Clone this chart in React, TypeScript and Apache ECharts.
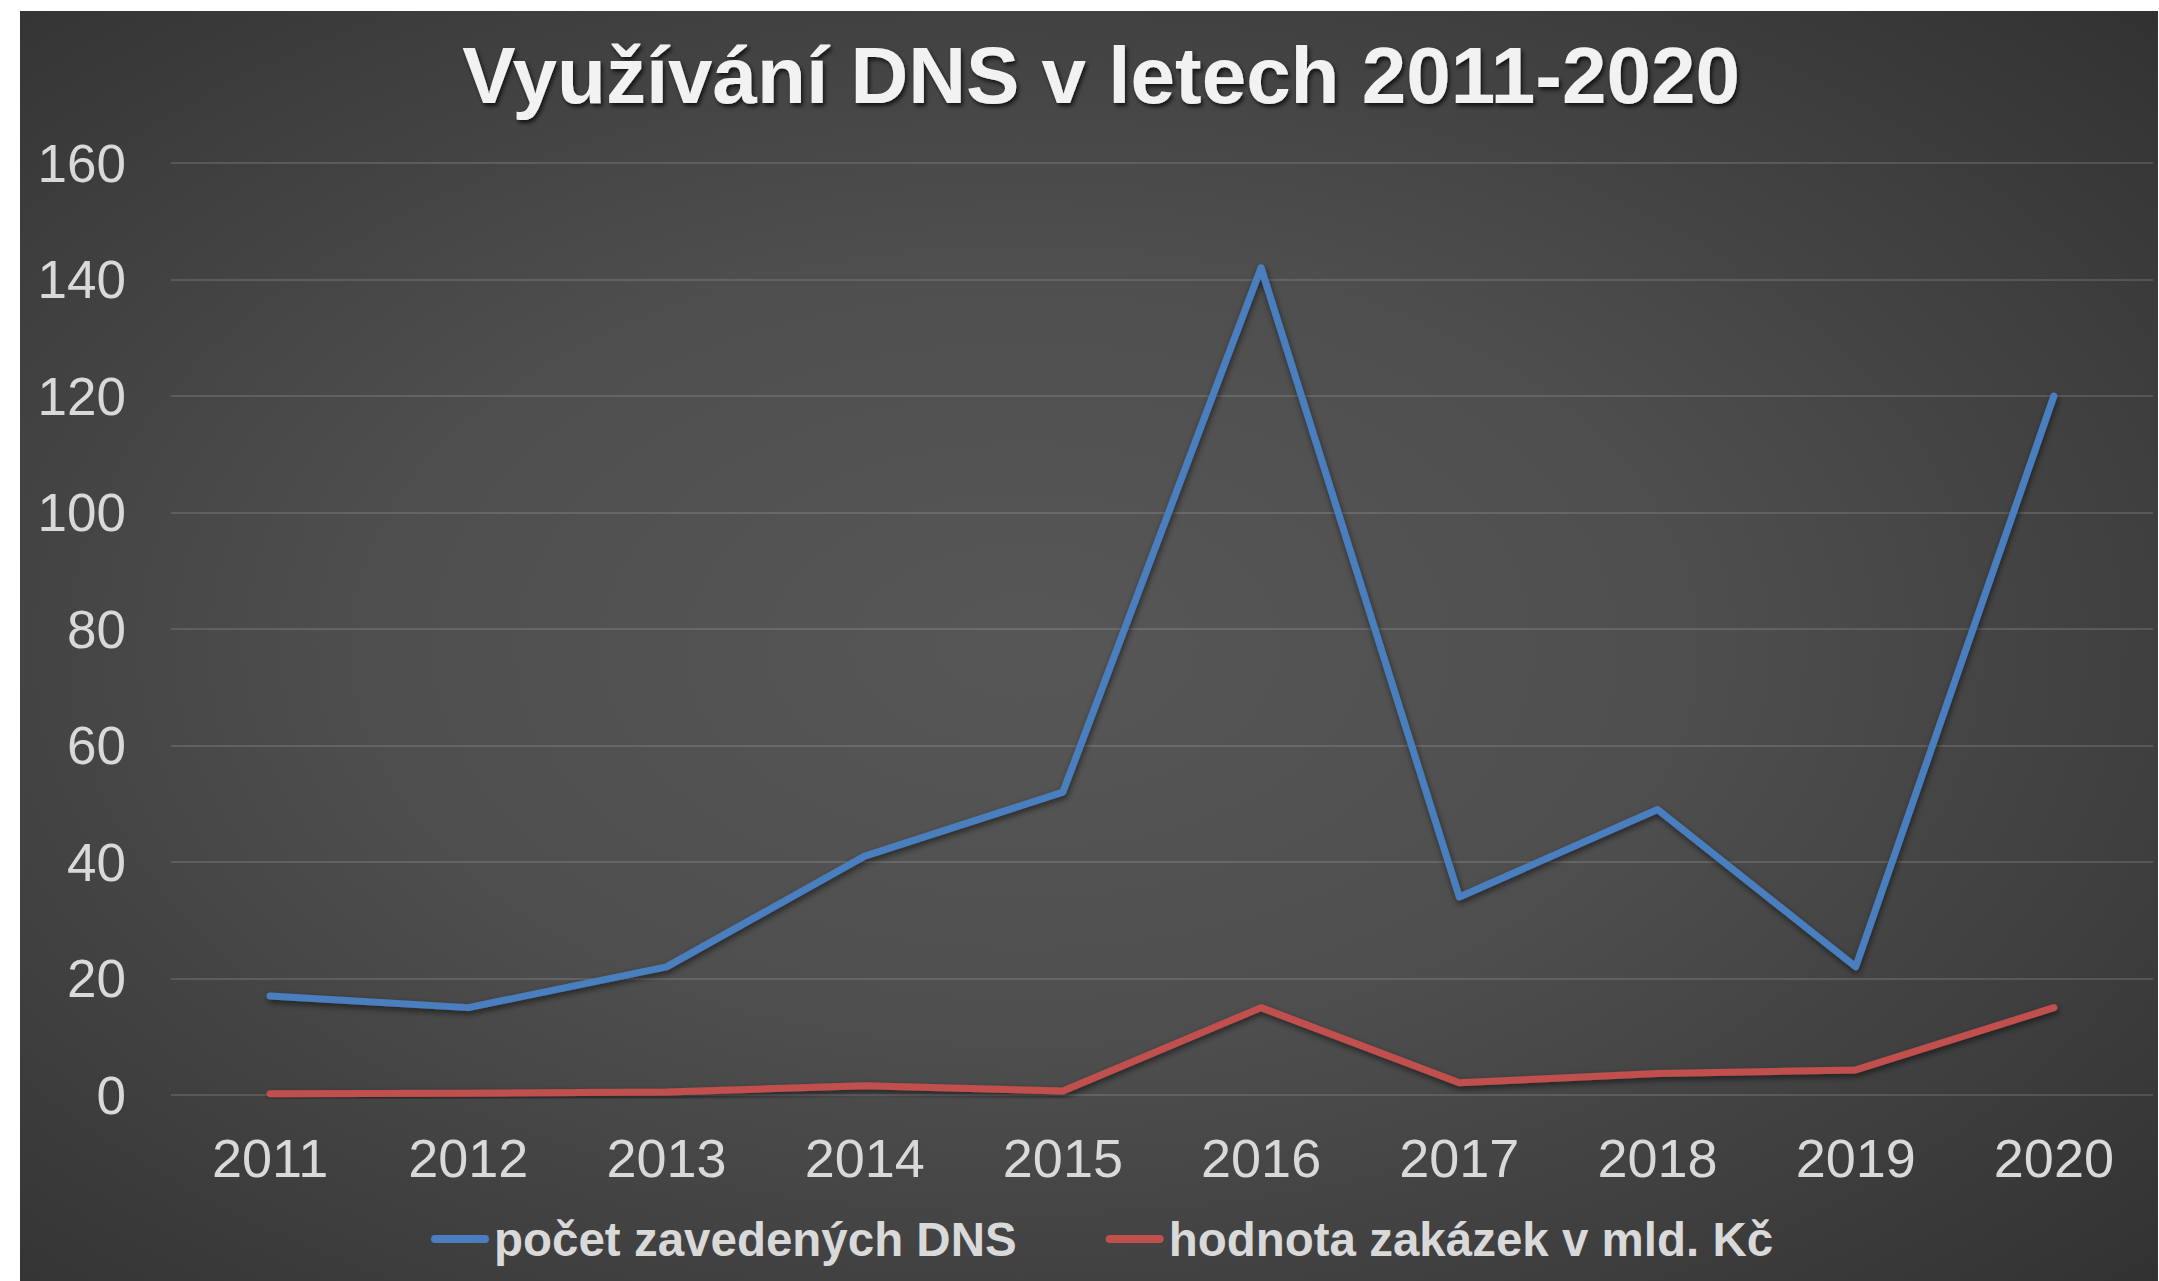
import React, { useEffect, useRef } from "react";
import * as echarts from "echarts";

const titleText = "Využívání DNS v letech 2011-2020";
const years = ["2011", "2012", "2013", "2014", "2015", "2016", "2017", "2018", "2019", "2020"];
const dnsCount = [17, 15, 22, 41, 52, 142, 34, 49, 22, 120];
const orderValue = [0.2, 0.3, 0.5, 1.6, 0.7, 15, 2.1, 3.7, 4.3, 15];
const seriesNames = ["počet zavedených DNS", "hodnota zakázek v mld. Kč"];
const seriesColors = ["#4A7EBF", "#C0504D"];

const W = 2159;
const H = 1281;

export default function App() {
  const ref = useRef<HTMLDivElement>(null);
  useEffect(() => {
    if (!ref.current) return;
    const chart = echarts.init(ref.current, undefined, { renderer: "svg" });
    const font = "'Liberation Sans', Arial, sans-serif";
    const lineSeries = [dnsCount, orderValue].map((d, i) => ({
      name: seriesNames[i],
      type: "line",
      data: d,
      symbol: "none",
      lineStyle: {
        width: 7,
        color: seriesColors[i],
        cap: "round",
        join: "round",
        shadowColor: "rgba(0,0,0,0.55)",
        shadowBlur: 6,
        shadowOffsetX: 1,
        shadowOffsetY: 3,
      },
      itemStyle: { color: seriesColors[i] },
      z: 3,
    }));
    chart.setOption({
      animation: false,
      backgroundColor: "#ffffff",
      textStyle: { fontFamily: font },
      graphic: [
        {
          type: "rect",
          silent: true,
          z: -10,
          shape: { x: 20, y: 11, width: W - 21, height: H - 11 },
          style: {
            fill: new echarts.graphic.RadialGradient(0.47, 0.5, 0.9, [
              { offset: 0, color: "#575757" },
              { offset: 0.35, color: "#4e4e4e" },
              { offset: 1, color: "#262626" },
            ]),
          },
        },
        {
          type: "text",
          z: 10,
          x: 1101,
          y: 75,
          style: {
            text: titleText,
            fill: "#f2f2f2",
            font: `bold 80px ${font}`,
            textAlign: "center",
            textVerticalAlign: "middle",
            textShadowColor: "rgba(0,0,0,0.7)",
            textShadowBlur: 4,
            textShadowOffsetX: 2,
            textShadowOffsetY: 3,
          },
        },
      ],
      grid: { left: 171, right: 6, top: 163, bottom: H - 1095 },
      legend: {
        left: 431,
        top: 1215,
        padding: 0,
        itemGap: 89,
        itemWidth: 58,
        itemHeight: 8,
        icon: "path://M4,0 H54 A4,4 0 0 1 54,8 H4 A4,4 0 0 1 4,0 Z",
        textStyle: {
          color: "#d9d9d9",
          fontSize: 47.5,
          fontWeight: "bold",
          fontFamily: font,
          lineHeight: 48,
        },
        data: seriesNames,
      },
      xAxis: {
        type: "category",
        data: years,
        boundaryGap: true,
        axisLine: { show: false },
        axisTick: { show: false },
        axisLabel: { color: "#d9d9d9", fontSize: 54, margin: 36, fontFamily: font },
      },
      yAxis: {
        type: "value",
        min: 0,
        max: 160,
        interval: 20,
        axisLine: { show: false },
        axisTick: { show: false },
        axisLabel: { color: "#d9d9d9", fontSize: 53, margin: 45, fontFamily: font },
        splitLine: { lineStyle: { color: "rgba(255,255,255,0.13)", width: 2 } },
      },
      series: lineSeries,
    });
    return () => chart.dispose();
  }, []);
  return (
    <div
      ref={ref}
      style={{ position: "fixed", left: 0, top: 0, width: W, height: H }}
    />
  );
}
